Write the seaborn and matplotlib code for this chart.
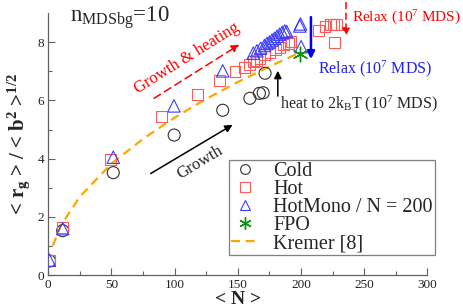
import numpy as np
import matplotlib
matplotlib.use('Agg')
import matplotlib.pyplot as plt
import seaborn as sns
from matplotlib.lines import Line2D

# ---- data ----
cold_n = [1, 11.4, 51.4, 99.6, 138, 159.5, 167, 170, 171.5]
cold_r = [0.49, 1.53, 3.52, 4.81, 5.66, 6.07, 6.24, 6.26, 6.93]

hot_n = [0.8, 11.4, 49.4, 89.7, 117.9, 135.8, 147.7, 155.6, 159.5, 162.2, 165, 167.5,
         171.4, 175.4, 179.4, 183.3, 185.9, 189.9, 192,
         213.6, 218.9, 222.9, 225.5, 228.2, 226.3]
hot_r = [0.5, 1.63, 3.98, 5.44, 6.21, 6.68, 6.98, 7.13, 7.22, 7.33, 7.38, 7.44,
         7.56, 7.64, 7.73, 7.81, 7.9, 7.96, 8.01,
         8.41, 8.53, 8.59, 8.59, 8.59, 7.99]

mono_n = [0.8, 11.4, 51.4, 99.4, 138, 162.2, 165, 168, 171, 173, 175, 177, 179,
          181, 183, 185, 187, 188.6, 199, 199.5, 200]
mono_r = [0.52, 1.6, 4.05, 5.81, 7.01, 7.62, 7.7, 7.79, 7.88, 7.95, 8.0, 8.07, 8.13,
          8.2, 8.27, 8.33, 8.38, 8.36, 8.55, 8.62, 7.84]

fpo_n = [199.1]
fpo_r = [7.6]

kremer_n = [3.5, 10, 25, 50, 75, 100, 125, 150, 175, 197]
kremer_r = [1.01, 1.71, 2.70, 3.83, 4.68, 5.41, 6.05, 6.63, 7.16, 7.6]

# ---- style ----
sns.set_style('ticks')
plt.rcParams['font.family'] = ['Liberation Serif', 'DejaVu Serif']
plt.rcParams['mathtext.fontset'] = 'custom'
plt.rcParams['mathtext.rm'] = 'Liberation Serif'
plt.rcParams['mathtext.it'] = 'Liberation Serif:italic'
plt.rcParams['mathtext.bf'] = 'Liberation Serif:bold'

c_cold = '#303030'
c_hot = '#ff5a5a'
c_mono = '#3a3aff'
c_fpo = '#109010'
c_kre = '#ffa500'

fig = plt.figure(figsize=(4.63, 3.08), dpi=100)
ax = fig.add_axes([0.1043, 0.1062, 0.819, 0.852])

sns.lineplot(x=kremer_n, y=kremer_r, ax=ax, color=c_kre, lw=1.6,
             linestyle=(0, (4, 2.6)), sort=False, zorder=1)
sns.scatterplot(x=cold_n, y=cold_r, ax=ax, marker='o', s=75, facecolors='none',
                edgecolors=c_cold, linewidths=0.8, zorder=2)
sns.scatterplot(x=hot_n, y=hot_r, ax=ax, marker='s', s=62, facecolors='none',
                edgecolors=c_hot, linewidths=0.8, zorder=3)
sns.scatterplot(x=mono_n, y=mono_r, ax=ax, marker='^', s=80, facecolors='none',
                edgecolors=c_mono, linewidths=0.8, zorder=4)
sns.scatterplot(x=fpo_n, y=fpo_r, ax=ax, marker=(6, 2, 0), s=110,
                color=c_fpo, edgecolors=c_fpo, linewidths=1.0, zorder=5)

ax.set_xlim(0, 300)
ax.set_ylim(0, 9)
ax.set_xticks([0, 50, 100, 150, 200, 250, 300])
ax.set_yticks([0, 2, 4, 6, 8])
ax.set_xticks([25, 75, 125, 175, 225, 275], minor=True)
ax.set_yticks([1, 3, 5, 7], minor=True)
ax.tick_params(which='both', direction='in', colors='#606060', labelcolor='#222222',
               labelsize=9.5, width=0.8)
ax.tick_params(which='major', length=5, pad=3)
ax.tick_params(which='minor', length=3)
sns.despine(ax=ax)
for s in ['left', 'bottom']:
    ax.spines[s].set_color('#606060')
    ax.spines[s].set_linewidth(0.9)

ax.set_xlabel('< N >', fontsize=14, fontweight='bold', labelpad=0)
ax.set_ylabel(r'< r$_\mathbf{g}$ > / < b$^\mathbf{2}$ >$^\mathbf{1/2}$',
              fontsize=15, fontweight='bold', labelpad=4)

# ---- annotations ----
ax.text(17.2, 8.70, r'n$_{\rm MDSbg}$=10', fontsize=16.5, ha='left', va='baseline')

ax.annotate('', xy=(147.7, 5.21), xytext=(79.1, 3.44),
            arrowprops=dict(arrowstyle='-|>', color='black', lw=1.1, mutation_scale=11))
ax.text(120, 3.88, 'Growth', fontsize=12, rotation=31, ha='center', va='center')

ax.annotate('', xy=(153, 7.96), xytext=(81.8, 6.02),
            arrowprops=dict(arrowstyle='-|>', color='red', lw=1.1, mutation_scale=11,
                            linestyle=(0, (5, 3))))
ax.text(110, 7.45, 'Growth & heating', color='red', fontsize=12, rotation=32,
        ha='center', va='center')

ax.annotate('', xy=(181.6, 7.11), xytext=(181.6, 6.05),
            arrowprops=dict(arrowstyle='-|>', color='black', lw=1.1, mutation_scale=11))
ax.text(183, 5.87, r'heat to 2k$_{\rm B}$T (10$^7$ MDS)', fontsize=11.5,
        ha='left', va='center')

ax.annotate('', xy=(207.8, 7.32), xytext=(207.8, 8.95),
            arrowprops=dict(arrowstyle='-|>', color='#0000ee', lw=1.8, mutation_scale=11),
            annotation_clip=False)
ax.text(213.4, 7.08, r'Relax (10$^7$ MDS)', color='#2020ee', fontsize=11.5,
        ha='left', va='center')

ax.annotate('', xy=(235.5, 8.12), xytext=(235.5, 9.45),
            arrowprops=dict(arrowstyle='-|>', color='red', lw=1.1, mutation_scale=11,
                            linestyle=(0, (4, 3))),
            annotation_clip=False)
ax.text(240.0, 8.84, r'Relax (10$^7$ MDS)', color='red', fontsize=11,
        ha='left', va='center')

# ---- legend ----
handles = [
    Line2D([], [], ls='none', marker='o', ms=7, mfc='none', mec=c_cold, mew=0.8),
    Line2D([], [], ls='none', marker='s', ms=6.5, mfc='none', mec=c_hot, mew=0.8),
    Line2D([], [], ls='none', marker='^', ms=7, mfc='none', mec=c_mono, mew=0.8),
    Line2D([], [], ls='none', marker=(6, 2, 0), ms=9, color=c_fpo, mew=1.0),
    Line2D([], [], color=c_kre, lw=1.6, ls=(0, (4, 2.6))),
]
labels = ['Cold', 'Hot', 'HotMono / N = 200', 'FPO', 'Kremer [8]']
leg = fig.legend(handles, labels, loc='upper left', bbox_to_anchor=(0.495, 0.481),
                 fontsize=14.5, frameon=True, fancybox=False, edgecolor='#606060',
                 handlelength=1.4, handletextpad=0.7, borderpad=0.1,
                 labelspacing=-0.05, borderaxespad=0)
leg.get_frame().set_linewidth(0.9)

fig.savefig('out.png', dpi=100)
